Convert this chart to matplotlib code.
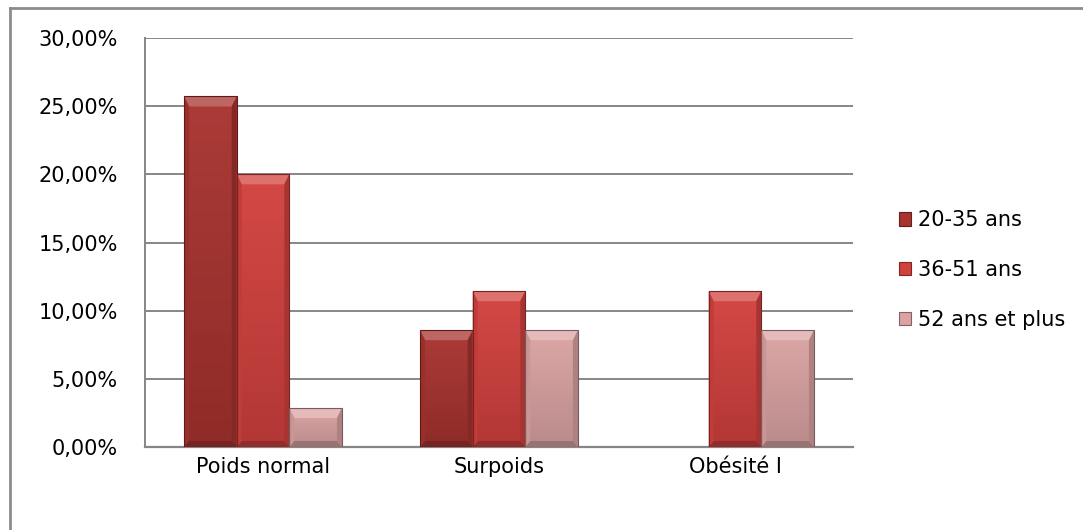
import numpy as np
import matplotlib
matplotlib.use("Agg")
import matplotlib.pyplot as plt
from matplotlib.patches import Polygon, Patch
from matplotlib.ticker import FuncFormatter, MultipleLocator
from matplotlib.lines import Line2D
from matplotlib.colors import to_rgb

# effectifs en % par tranche d'age
categories = ["Poids normal", "Surpoids", "Obésité I"]
series_names = ["20-35 ans", "36-51 ans", "52 ans et plus"]
val_20_35 = [25.71, 8.57, 0.0]
val_36_51 = [20.00, 11.43, 11.43]
val_52_plus = [2.86, 8.57, 8.57]

couleurs = ["#A8332F", "#D2413E", "#DBA3A3"]
plt.rcParams["font.family"] = "DejaVu Sans"


def eclaircir(c, f):
    r, g, b = to_rgb(c)
    return (r + (1 - r) * f, g + (1 - g) * f, b + (1 - b) * f)


def assombrir(c, f):
    r, g, b = to_rgb(c)
    return (r * (1 - f), g * (1 - f), b * (1 - f))


def biseau(ax, rect, couleur, dx, dy):
    # effet "biseau" facon Excel sur chaque barre
    x0, y0 = rect.get_x(), rect.get_y()
    w, h = rect.get_width(), rect.get_height()
    if h <= 0:
        return
    dyh = min(dy, h / 2)
    dyb = min(dy * 0.6, h / 2)
    x1, y1 = x0 + w, y0 + h
    # degrade vertical du corps (clair en haut, sombre en bas)
    grad = np.linspace(0, 1, 64).reshape(-1, 1)
    haut = np.array(eclaircir(couleur, 0.04))
    bas = np.array(assombrir(couleur, 0.15))
    img = haut * (1 - grad[..., None]) + bas * grad[..., None]
    im = ax.imshow(img, extent=[x0, x1, y0, y1], aspect="auto", zorder=3, origin="upper")
    im.set_clip_path(rect)
    ax.add_patch(Polygon([(x0, y1), (x1, y1), (x1 - dx, y1 - dyh), (x0 + dx, y1 - dyh)],
                         closed=True, fc=eclaircir(couleur, 0.25), ec="none", zorder=4))
    ax.add_patch(Polygon([(x0, y0), (x1, y0), (x1 - dx, y0 + dyb), (x0 + dx, y0 + dyb)],
                         closed=True, fc=assombrir(couleur, 0.3), ec="none", zorder=4))
    ax.add_patch(Polygon([(x0, y0), (x0, y1), (x0 + dx, y1 - dyh), (x0 + dx, y0 + dyb)],
                         closed=True, fc=assombrir(couleur, 0.08), ec="none", zorder=4))
    ax.add_patch(Polygon([(x1, y0), (x1, y1), (x1 - dx, y1 - dyh), (x1 - dx, y0 + dyb)],
                         closed=True, fc=assombrir(couleur, 0.2), ec="none", zorder=4))
    ax.add_patch(plt.Rectangle((x0, y0), w, h, fc="none", ec=assombrir(couleur, 0.45),
                               lw=0.8, zorder=5))


fig = plt.figure(figsize=(10.83, 5.30), dpi=100)
ax = fig.add_axes([0.1339, 0.1566, 0.6537, 0.7717])

x = np.arange(len(categories))
largeur = 0.223
donnees = [val_20_35, val_36_51, val_52_plus]
ax.set_xlim(-0.5, len(categories) - 0.5)
ax.set_ylim(0, 30)

dx = 5 * 3 / 708
dy = 10 * 30 / 409
for i, (vals, coul) in enumerate(zip(donnees, couleurs)):
    barres = ax.bar(x + (i - 1) * largeur, vals, largeur, color=coul, zorder=2, linewidth=0)
    for r in barres:
        biseau(ax, r, coul, dx, dy)

ax.yaxis.set_major_locator(MultipleLocator(5))
ax.yaxis.set_major_formatter(FuncFormatter(lambda v, p: f"{v:.2f}%".replace(".", ",")))
ax.set_xticks(x)
ax.set_xticklabels(categories)
ax.tick_params(axis="both", length=0, labelsize=15)
ax.tick_params(axis="y", pad=19.5)
ax.tick_params(axis="x", pad=7.5)
ax.grid(axis="y", color="#868686", lw=1.4, zorder=0)
ax.set_axisbelow(True)
for s in ["top", "right"]:
    ax.spines[s].set_visible(False)
ax.spines["left"].set_color("#868686")
ax.spines["bottom"].set_color("#868686")
ax.spines["left"].set_linewidth(1.4)
ax.spines["bottom"].set_linewidth(1.6)

poignees = [Patch(facecolor=c, edgecolor=assombrir(c, 0.4), lw=0.8) for c in couleurs]
fig.legend(poignees, series_names, loc="center left", bbox_to_anchor=(880 / 1083, 1 - 270 / 530),
           frameon=False, fontsize=15, handlelength=0.6, handleheight=0.6,
           handletextpad=0.3, labelspacing=1.42)

# cadre du graphique
fig.add_artist(Line2D([10 / 1083, 1], [1 - 8 / 530, 1 - 8 / 530], color="#8C8C8C", lw=2))
fig.add_artist(Line2D([10 / 1083, 10 / 1083], [0, 1 - 8 / 530], color="#8C8C8C", lw=2))

fig.savefig("out.png", dpi=100, facecolor="white")
